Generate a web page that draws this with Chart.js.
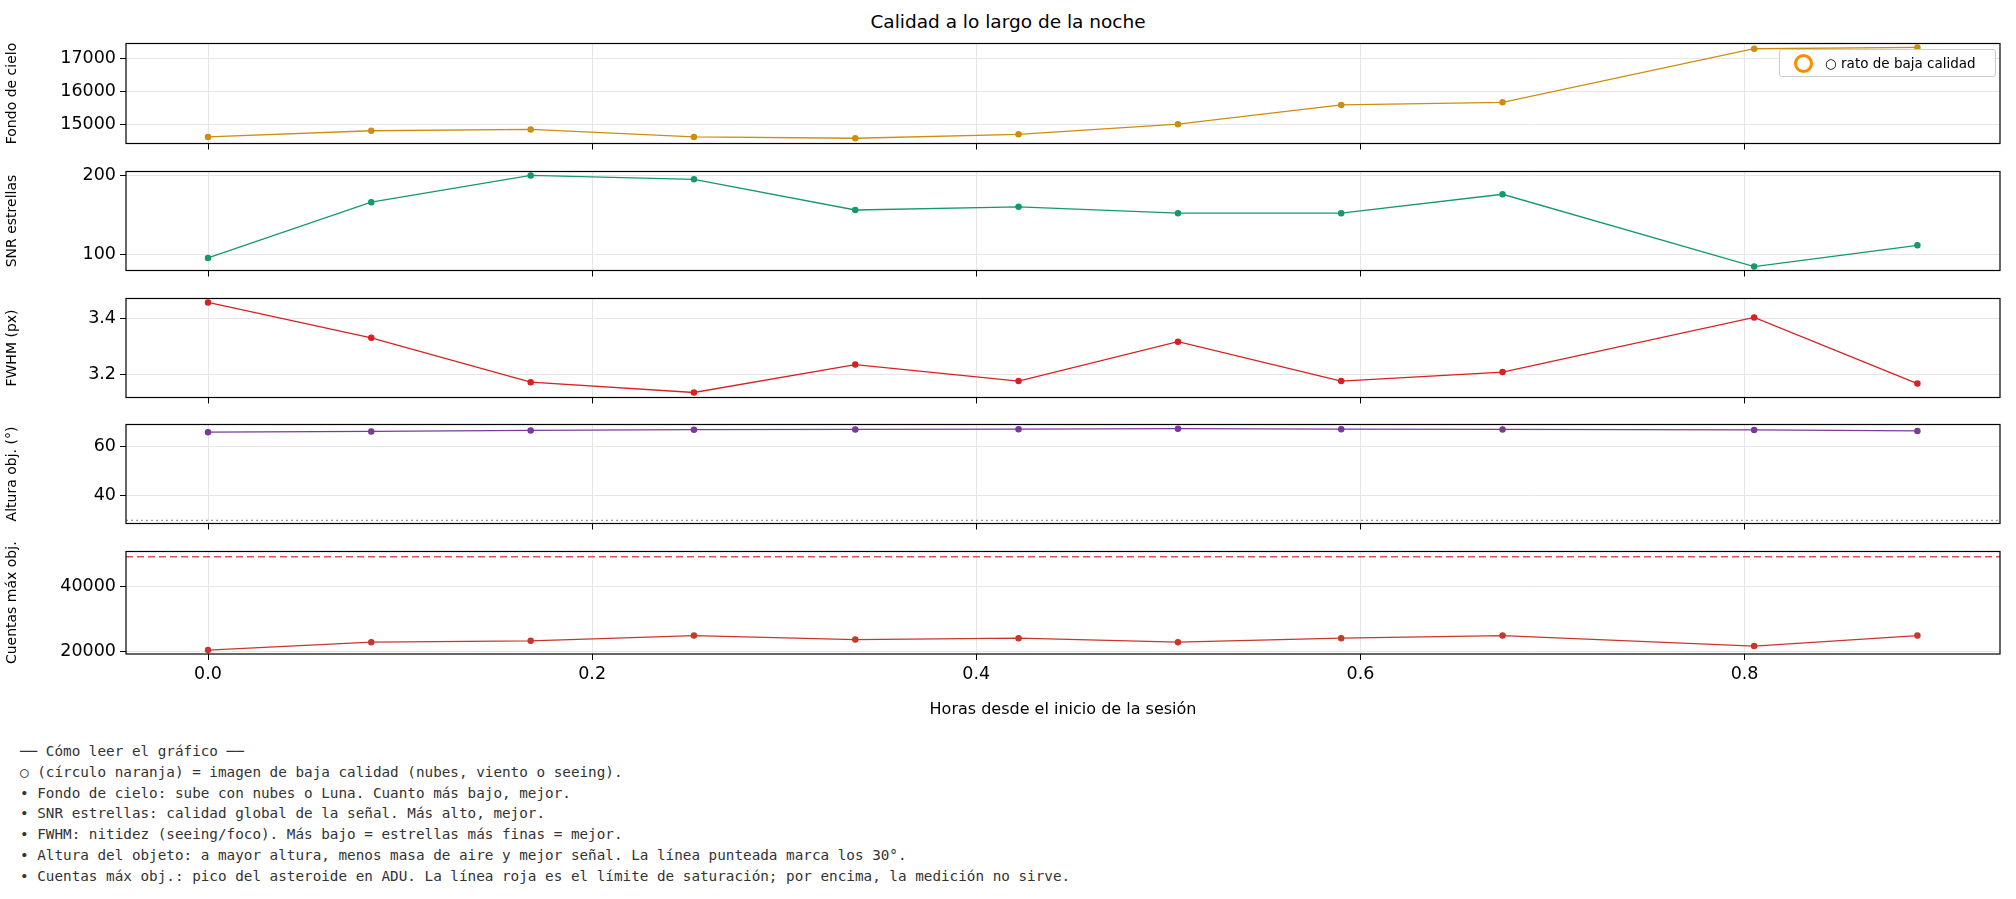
<!DOCTYPE html>
<html><head><meta charset="utf-8">
<script src="https://cdn.jsdelivr.net/npm/chart.js@4"></script>
<style>
body{margin:0;width:2016px;height:899px;background:#fff;position:relative;overflow:hidden;font-family:"DejaVu Sans",sans-serif}
.c{position:absolute;left:0;width:2016px}
#title{position:absolute;top:11px;left:0;width:2016px;text-align:center;font-size:18.5px;color:#000}
#legend{position:absolute;left:1779px;top:49px;width:215px;height:26px;border:1px solid #ccc;border-radius:3px;background:rgba(255,255,255,0.85);font-size:13.5px;display:flex;align-items:center}
#legend span.m{display:inline-block;border:3px solid #ff8c00;border-radius:50%;margin:0 12px 0 14px;box-sizing:border-box;width:19px;height:19px}
#notes{position:absolute;left:20px;top:741px;font-family:"DejaVu Sans Mono",monospace;font-size:14.3px;color:#333;line-height:20.8px;white-space:pre}
</style></head><body>
<div id="title">Calidad a lo largo de la noche</div>
<canvas id="c1" class="c"></canvas><canvas id="c2" class="c"></canvas><canvas id="c3" class="c"></canvas><canvas id="c4" class="c"></canvas><canvas id="c5" class="c"></canvas>
<div id="legend"><span class="m"></span>○ rato de baja calidad</div>
<div id="notes">── Cómo leer el gráfico ──
○ (círculo naranja) = imagen de baja calidad (nubes, viento o seeing).
• Fondo de cielo: sube con nubes o Luna. Cuanto más bajo, mejor.
• SNR estrellas: calidad global de la señal. Más alto, mejor.
• FWHM: nitidez (seeing/foco). Más bajo = estrellas más finas = mejor.
• Altura del objeto: a mayor altura, menos masa de aire y mejor señal. La línea punteada marca los 30°.
• Cuentas máx obj.: pico del asteroide en ADU. La línea roja es el límite de saturación; por encima, la medición no sirve.</div>
<script>
const hours = [0, 0.085, 0.168, 0.253, 0.337, 0.422, 0.505, 0.590, 0.674, 0.805, 0.890];
const skyBg = [14610, 14800, 14840, 14610, 14570, 14690, 15000, 15590, 15670, 17310, 17350];
const snr = [95, 166, 200, 195, 156, 160, 152, 152, 176, 84, 111];
const fwhm = [3.459, 3.332, 3.173, 3.136, 3.236, 3.177, 3.318, 3.177, 3.209, 3.405, 3.168];
const altitude = [65.6, 65.9, 66.3, 66.6, 66.7, 66.8, 67.0, 66.8, 66.7, 66.5, 66.1];
const peakCounts = [20400, 22850, 23260, 24900, 23670, 24080, 22850, 24080, 24900, 21630, 24900];
const xTicks = [0, 0.2, 0.4, 0.6, 0.8];
const altLimit = 30;
const satLimit = 49400;
const XMIN = -0.0427, XMAX = 0.933;

const frame = {id:'frame',afterDraw(ch){const a=ch.chartArea,c=ch.ctx;c.save();c.strokeStyle='#000';c.lineWidth=1.2;c.strokeRect(a.left,a.top,a.right-a.left,a.bottom-a.top);c.restore();}};

function panel(id, top, bottom, vals, color, label, ymin, ymax, yt, extra, last){
  const cv=document.getElementById(id);
  const t=top-13, h=(bottom-top)+13+(last?72:15);
  cv.style.top=t+'px'; cv.style.height=h+'px'; cv.width=2016; cv.height=h;
  const ds=[{data:hours.map((x,i)=>({x:x,y:vals[i]})),borderColor:color,backgroundColor:color,borderWidth:1.3,pointRadius:2.6,pointHoverRadius:2.6}];
  if(extra) ds.push({data:[{x:XMIN,y:extra.v},{x:XMAX,y:extra.v}],borderColor:extra.color,borderDash:extra.dash,borderWidth:extra.w,pointRadius:0});
  new Chart(cv,{type:'line',data:{datasets:ds},plugins:[frame],options:{
    responsive:false,animation:false,events:[],
    layout:{padding:{left:0,right:16,top:0,bottom:0}},
    plugins:{legend:{display:false},tooltip:{enabled:false}},
    scales:{
      x:{type:'linear',min:XMIN,max:XMAX,
        afterBuildTicks:s=>{s.ticks=xTicks.map(v=>({value:v}));},
        afterFit:s=>{s.height=last?69:8;},
        grid:{color:'#e6e6e6',tickColor:'#000',tickLength:6},border:{display:false},
        ticks:{display:!!last,color:'#000',font:{size:17.5,family:'DejaVu Sans'},maxRotation:0,padding:4,callback:v=>v.toFixed(1)},
        title:{display:!!last,text:'Horas desde el inicio de la sesión',color:'#000',font:{size:16,family:'DejaVu Sans'},padding:{top:4}}},
      y:{min:ymin,max:ymax,
        afterBuildTicks:s=>{s.ticks=yt.map(v=>({value:v}));},
        afterFit:s=>{s.width=126;},
        grid:{color:'#e6e6e6',tickColor:'#000',tickLength:6},border:{display:false},
        ticks:{color:'#000',font:{size:17.5,family:'DejaVu Sans'},padding:4,callback:v=>String(v)},
        title:{display:true,text:label,color:'#000',font:{size:14,family:'DejaVu Sans'},padding:{bottom:2}}}
    }}});
}
panel('c1',42,143,skyBg,'#cc8e0e','Fondo de cielo',14410,17470,[15000,16000,17000]);
panel('c2',170,270,snr,'#16996a','SNR estrellas',79,205,[100,200]);
panel('c3',297,397,fwhm,'#d62222','FWHM (px)',3.118,3.473,[3.2,3.4]);
panel('c4',423,523,altitude,'#7a3a9a','Altura obj. (°)',28.7,68.7,[40,60],{v:altLimit,color:'#999',dash:[2,3],w:1.2});
panel('c5',550,651,peakCounts,'#c9372c','Cuentas máx obj.',19180,51000,[20000,40000],{v:satLimit,color:'#d9534f',dash:[7,4],w:1.5},true);
</script></body></html>
